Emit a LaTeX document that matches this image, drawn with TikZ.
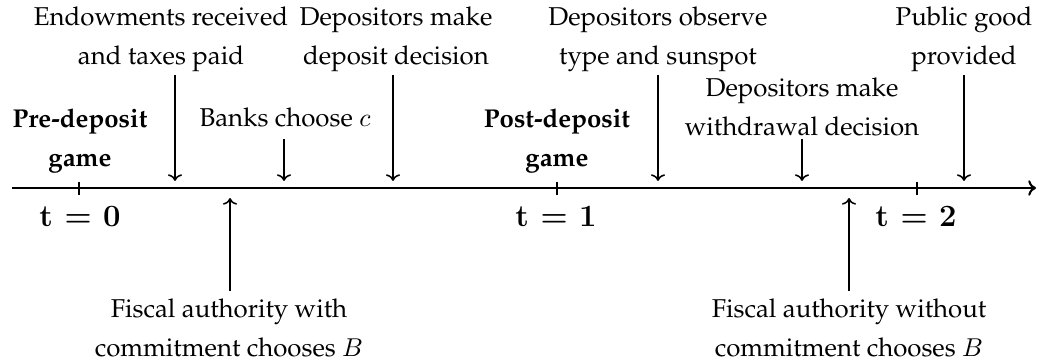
\documentclass[tikz,border=0pt]{standalone}
\usepackage[T1]{fontenc}
\usepackage{palatino}
\usetikzlibrary{arrows.meta}
\newcommand{\cmbold}{\usefont{OT1}{cmr}{bx}{n}}
\begin{document}
\begin{tikzpicture}[x=0.3876pt,y=-0.3876pt,
  lbl/.style={align=center,font=\fontsize{10}{15.5}\selectfont,inner sep=0pt,anchor=base},
  blbl/.style={lbl,font=\fontsize{10}{15.5}\selectfont\bfseries},
  tlbl/.style={inner sep=0pt,anchor=base,font=\fontsize{12}{14}\selectfont\cmbold},
  axisline/.style={line width=0.8pt,-{To[length=3pt,width=6pt]}},
  evt/.style={line width=0.6pt,-{To[length=2.6pt,width=5.5pt]}},
  tickmark/.style={line width=0.6pt}]
\useasboundingbox (0,0) rectangle (1039,364);
% axis
\coordinate (ax0) at (12,188);
\coordinate (ax1) at (1036,188);
\draw[axisline] (ax0) -- (ax1);
\draw[tickmark] (79,182) -- (79,195);
\draw[tickmark] (557,182) -- (557,195);
\draw[tickmark] (917,182) -- (917,195);
% time labels
\node[tlbl] (tzero) at (80,227) {t = 0};
\node[tlbl] (tone) at (556,227) {t = 1};
\node[tlbl] (ttwo) at (916,227) {t = 2};
% game labels (anchor = baseline of last line)
\node[blbl] (pre) at (80,167) {Pre-deposit\\game};
\node[blbl] (post) at (557,167) {Post-deposit\\game};
% top labels
\node[lbl] (endow) at (161,65) {Endowments received\\and taxes paid};
\node[lbl] (depmake) at (396,65) {Depositors make\\deposit decision};
\node[lbl] (banks) at (285,127) {Banks choose $c$};
\node[lbl] (observe) at (658,65) {Depositors observe\\type and sunspot};
\node[lbl] (withdraw) at (802,136) {Depositors make\\withdrawal decision};
\node[lbl] (public) at (964,65) {Public good\\provided};
% bottom labels
\node[lbl] (fiscA) at (229,357) {Fiscal authority with\\commitment chooses $B$};
\node[lbl] (fiscB) at (849,357) {Fiscal authority without\\commitment chooses $B$};
% event arrows
\coordinate (endowS) at (175,75);   \coordinate (endowE) at (175,181);
\coordinate (banksS) at (284,139);  \coordinate (banksE) at (284,181);
\coordinate (depS) at (393,75);     \coordinate (depE) at (393,181);
\coordinate (obsS) at (658,75);     \coordinate (obsE) at (658,181);
\coordinate (wdS) at (802,139);     \coordinate (wdE) at (802,181);
\coordinate (pubS) at (964,75);     \coordinate (pubE) at (964,181);
\coordinate (fAS) at (230,291);     \coordinate (fAE) at (230,198);
\coordinate (fBS) at (849,291);     \coordinate (fBE) at (849,198);
\draw[evt] (endowS) -- (endowE);
\draw[evt] (banksS) -- (banksE);
\draw[evt] (depS) -- (depE);
\draw[evt] (obsS) -- (obsE);
\draw[evt] (wdS) -- (wdE);
\draw[evt] (pubS) -- (pubE);
\draw[evt] (fAS) -- (fAE);
\draw[evt] (fBS) -- (fBE);
\end{tikzpicture}
\end{document}
